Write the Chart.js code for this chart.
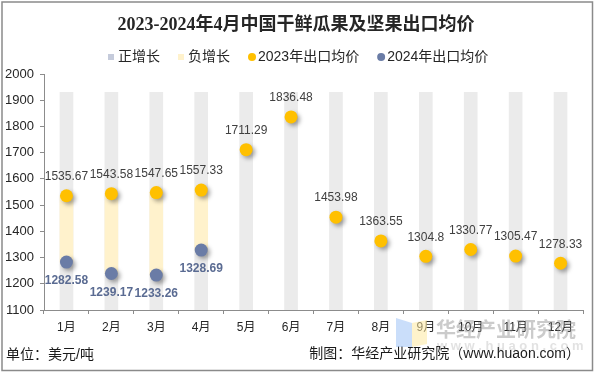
<!DOCTYPE html>
<html>
<head>
<meta charset="utf-8">
<script src="https://cdn.jsdelivr.net/npm/chart.js@4/dist/chart.umd.min.js"></script>
<style>
  html, body { margin: 0; padding: 0; background: #fff; }
  #wrap { width: 595px; height: 374px; position: relative; }
</style>
</head>
<body>
<div id="wrap"><canvas id="jiage-diagrami" width="595" height="374"></canvas></div>
<script>
var months = ["1月", "2月", "3月", "4月", "5月", "6月", "7月", "8月", "9月", "10月", "11月", "12月"];
var price2023 = [1535.67, 1543.58, 1547.65, 1557.33, 1711.29, 1836.48, 1453.98, 1363.55, 1304.8, 1330.77, 1305.47, 1278.33];
var price2024 = [1282.58, 1239.17, 1233.26, 1328.69];
var yTicks = [1100, 1200, 1300, 1400, 1500, 1600, 1700, 1800, 1900, 2000];
var bgTop = 1930;

var titleText = "2023-2024年4月中国干鲜瓜果及坚果出口均价";
var unitText = "单位：美元/吨";
var sourceText = "制图：华经产业研究院（www.huaon.com）";

var cjk = '"Liberation Sans", "Noto Sans CJK SC", sans-serif';

// ranges between the two years
var posRange = months.map(function (m, i) {
    if (price2024[i] == null) return null;
    return price2024[i] >= price2023[i] ? [price2023[i], price2024[i]] : null;
});
var negRange = months.map(function (m, i) {
    if (price2024[i] == null) return null;
    return price2024[i] < price2023[i] ? [price2024[i], price2023[i]] : null;
});
var bgRange = months.map(function () { return [yTicks[0], bgTop]; });

var shadowPlugin = {
    id: 'shadow',
    beforeDatasetDraw: function (chart, args) {
        if (args.meta.type !== 'line') return;
        var ctx = chart.ctx;
        ctx.save();
        ctx.shadowColor = 'rgba(0,0,0,0.35)';
        ctx.shadowBlur = 4;
        ctx.shadowOffsetX = 2.5;
        ctx.shadowOffsetY = 2.5;
    },
    afterDatasetDraw: function (chart, args) {
        if (args.meta.type !== 'line') return;
        chart.ctx.restore();
    }
};

var decorPlugin = {
    id: 'decor',
    afterDatasetsDraw: function (chart) {
        var ctx = chart.ctx;
        ctx.save();
        ctx.textAlign = 'center';
        ctx.textBaseline = 'middle';
        // 2023 labels above points
        var m23 = chart.getDatasetMeta(2);
        ctx.font = '12px ' + cjk;
        ctx.fillStyle = '#404040';
        m23.data.forEach(function (pt, i) {
            if (price2023[i] == null) return;
            ctx.fillText(String(price2023[i]), pt.x, pt.y - 19);
        });
        // 2024 labels below points
        var m24 = chart.getDatasetMeta(3);
        ctx.font = 'bold 12px ' + cjk;
        ctx.fillStyle = '#5a6b92';
        m24.data.forEach(function (pt, i) {
            if (price2024[i] == null) return;
            ctx.fillText(String(price2024[i]), pt.x, pt.y + 19);
        });
        ctx.restore();
    },
    afterDraw: function (chart) {
        var ctx = chart.ctx;
        ctx.save();
        // title
        ctx.fillStyle = '#262626';
        ctx.textAlign = 'center';
        ctx.textBaseline = 'middle';
        ctx.font = 'bold 18px "Liberation Serif", "Noto Sans CJK SC", serif';
        ctx.fillText(titleText, 296, 25);

        // legend
        ctx.font = '14px ' + cjk;
        ctx.textAlign = 'left';
        var x = 108, ly = 57;
        chart.data.datasets.forEach(function (ds) {
            if (ds.hideLegend) return;
            if (ds.type === 'line') {
                ctx.fillStyle = ds.backgroundColor;
                ctx.beginPath();
                ctx.arc(x + 4, ly, 4, 0, Math.PI * 2);
                ctx.fill();
                x += 10;
            } else {
                ctx.fillStyle = ds.legendColor;
                ctx.fillRect(x, ly - 3, 6, 6);
                x += 10;
            }
            ctx.fillStyle = '#262626';
            ctx.fillText(ds.label, x, ly);
            x += ctx.measureText(ds.label).width + 18;
        });

        // footer
        ctx.font = '14px ' + cjk;
        ctx.fillStyle = '#1a1a1a';
        ctx.fillText(unitText, 6, 355);
        ctx.textAlign = 'right';
        ctx.fillText(sourceText, 580, 354);

        // watermark
        ctx.globalAlpha = 0.55;
        ctx.fillStyle = '#9ec3f5';
        ctx.beginPath();
        ctx.moveTo(396, 318); ctx.lineTo(412, 323); ctx.lineTo(412, 347); ctx.lineTo(396, 347);
        ctx.closePath(); ctx.fill();
        ctx.fillStyle = '#fde9a0';
        ctx.beginPath();
        ctx.moveTo(412, 323); ctx.lineTo(427, 320); ctx.lineTo(427, 344); ctx.lineTo(412, 347);
        ctx.closePath(); ctx.fill();
        ctx.globalAlpha = 0.45;
        ctx.fillStyle = '#8c8c8c';
        ctx.textAlign = 'left';
        ctx.font = 'bold 20px "Noto Sans CJK SC", sans-serif';
        ctx.fillText('华经产业研究院', 436, 329);
        ctx.globalAlpha = 0.25;
        ctx.font = 'bold 13px ' + cjk;
        ctx.fillText('w w w . h u a o n . c o m', 437, 346);
        ctx.restore();

        // frame
        ctx.save();
        ctx.strokeStyle = '#8a8a8a';
        ctx.lineWidth = 1.5;
        ctx.strokeRect(2, 2, 590.5, 368.5);
        ctx.restore();
    }
};

var ctx = document.getElementById("jiage-diagrami").getContext('2d');
var chart = new Chart(ctx, {
    type: 'bar',
    data: {
        labels: months,
        datasets: [{
            label: '正增长',
            data: posRange,
            backgroundColor: '#c5cbdb',
            legendColor: '#c5cbdb',
            barThickness: 13,
            grouped: false,
            order: 2
        }, {
            label: '负增长',
            data: negRange,
            backgroundColor: '#fff2cc',
            legendColor: '#fff2cc',
            barThickness: 13,
            grouped: false,
            order: 2
        }, {
            type: 'line',
            label: '2023年出口均价',
            data: price2023,
            showLine: false,
            backgroundColor: '#ffc000',
            borderColor: '#ffc000',
            pointRadius: 6.5,
            pointBorderWidth: 0,
            order: 1
        }, {
            type: 'line',
            label: '2024年出口均价',
            data: price2024,
            showLine: false,
            backgroundColor: '#6a7ca6',
            borderColor: '#6a7ca6',
            pointRadius: 6.5,
            pointBorderWidth: 0,
            order: 0
        }, {
            label: 'bg',
            data: bgRange,
            backgroundColor: '#ebebeb',
            barThickness: 13,
            grouped: false,
            hideLegend: true,
            order: 3
        }]
    },
    options: {
        responsive: false,
        animation: false,
        events: [],
        layout: {
            padding: { left: 4, right: 12, top: 74, bottom: 34 }
        },
        plugins: {
            legend: { display: false },
            title: { display: false },
            tooltip: { enabled: false }
        },
        scales: {
            x: {
                offset: true,
                grid: {
                    offset: true,
                    drawOnChartArea: false,
                    color: '#8c8c8c',
                    tickLength: 4
                },
                border: { color: '#8c8c8c', width: 1 },
                ticks: {
                    color: '#262626',
                    font: { size: 12, family: cjk },
                    padding: 6,
                    maxRotation: 0,
                    autoSkip: false
                },
                afterFit: function (scale) { scale.height = 30; }
            },
            y: {
                min: yTicks[0],
                max: yTicks[yTicks.length - 1],
                afterBuildTicks: function (scale) {
                    scale.ticks = yTicks.map(function (v) { return { value: v }; });
                },
                grid: {
                    drawOnChartArea: false,
                    color: '#8c8c8c',
                    tickLength: 4
                },
                border: { color: '#8c8c8c', width: 1 },
                ticks: {
                    color: '#262626',
                    font: { size: 13, family: cjk },
                    padding: 6,
                    callback: function (v) { return String(v); }
                },
                afterFit: function (scale) { scale.width = 40; }
            }
        }
    },
    plugins: [shadowPlugin, decorPlugin]
});
</script>
</body>
</html>
